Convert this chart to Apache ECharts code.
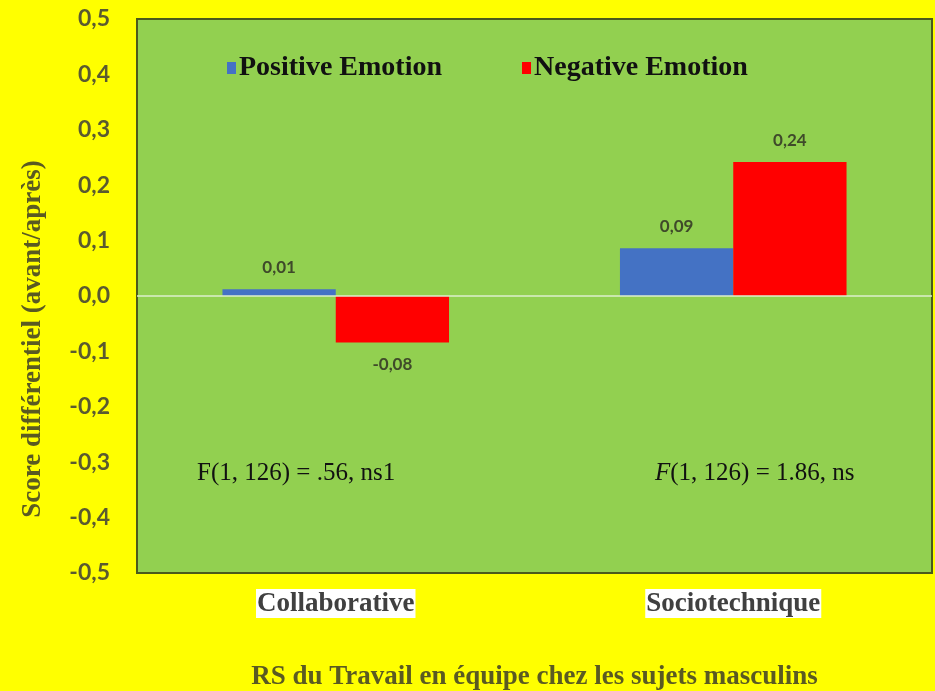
<!DOCTYPE html>
<html>
<head>
<meta charset="utf-8">
<script src="https://cdn.jsdelivr.net/npm/echarts@6/dist/echarts.min.js"></script>
<style>
  html, body { margin: 0; padding: 0; background: #ffff00; }
  #chart { width: 935px; height: 691px; }
</style>
</head>
<body>
<div id="chart"></div>
<script>
// donnees
var categories = ['Collaborative', 'Sociotechnique'];
var positiveEmotion = [0.012, 0.086];
var negativeEmotion = [-0.084, 0.242];
var yTicks = { min: -0.5, max: 0.5, step: 0.1 };
var fTests = ['F(1, 126) = .56, ns1', '{i|F}(1, 126) = 1.86, ns'];
var yTitle = 'Score différentiel (avant/après)';

function virgule(v, d) { // format francais
    return v.toFixed(d).replace('.', ',');
}

function barData(vals) {
    return vals.map(function (v) {
        return { value: v, label: { position: v < 0 ? 'bottom' : 'top' } };
    });
}

var chart = echarts.init(document.getElementById('chart'));

var labelStyle = {
    show: true,
    distance: 13,
    fontFamily: 'Lato',
    fontWeight: 'bold',
    fontSize: 17,
    color: '#3f4a2a',
    formatter: function (p) { return virgule(p.value, 2); }
};

var option = {
    backgroundColor: '#ffff00',
    animation: false,
    grid: {
        left: 137, right: 3, top: 19, bottom: 118,
        outerBoundsMode: 'none',
        show: true,
        backgroundColor: '#92d050',
        borderColor: '#4b5a1c',
        borderWidth: 2
    },
    legend: {
        top: 49,
        left: 222,
        itemGap: 80,
        itemWidth: 9,
        itemHeight: 12,
        icon: 'rect',
        textStyle: {
            fontFamily: 'Liberation Serif',
            fontWeight: 'bold',
            fontSize: 28,
            color: '#111',
            padding: [0, 0, 0, -2]
        },
        data: ['Positive Emotion', 'Negative Emotion']
    },
    xAxis: {
        type: 'category',
        data: categories,
        axisLine: { show: false, onZero: false },
        axisTick: { show: false },
        axisLabel: {
            margin: 16,
            fontFamily: 'Liberation Serif',
            fontWeight: 'bold',
            fontSize: 27,
            color: '#404040',
            backgroundColor: '#ffffff',
            padding: [2, 1, 0, 1]
        },
        name: 'RS du Travail en équipe chez les sujets masculins',
        nameLocation: 'middle',
        nameGap: 91,
        nameTextStyle: {
            fontFamily: 'Liberation Serif',
            fontWeight: 'bold',
            fontSize: 27,
            color: '#5a5a22'
        }
    },
    yAxis: {
        type: 'value',
        min: yTicks.min,
        max: yTicks.max,
        interval: yTicks.step,
        axisLine: { show: false },
        axisTick: { show: false },
        splitLine: { show: false },
        axisLabel: {
            margin: 27,
            fontFamily: 'Lato',
            fontWeight: 'bold',
            fontSize: 23,
            color: '#5a5a30',
            formatter: function (v) { return virgule(v, 1); }
        }
    },
    series: [
        {
            name: 'Positive Emotion',
            type: 'bar',
            data: barData(positiveEmotion),
            itemStyle: { color: '#4472c4' },
            barGap: '0%',
            barCategoryGap: '43%',
            label: labelStyle,
            markLine: {
                silent: true,
                symbol: 'none',
                label: { show: false },
                lineStyle: { color: '#dcefcc', type: 'solid', width: 1.5 },
                data: [{ yAxis: 0 }]
            },
            z: 3
        },
        {
            name: 'Negative Emotion',
            type: 'bar',
            data: barData(negativeEmotion),
            itemStyle: { color: '#ff0000' },
            label: labelStyle,
            z: 3
        }
    ],
    graphic: [
        {
            type: 'text', x: 33, y: 339, rotation: Math.PI / 2,
            style: {
                text: yTitle,
                font: 'bold 27px "Liberation Serif"',
                fill: '#5a5a22',
                align: 'center',
                verticalAlign: 'middle'
            }
        },
        {
            type: 'text', left: 197, top: 461,
            style: {
                text: fTests[0],
                font: '25px "Liberation Serif"',
                fill: '#111'
            }
        },
        {
            type: 'text', left: 655, top: 461,
            style: {
                text: fTests[1],
                font: '25px "Liberation Serif"',
                fill: '#111',
                rich: {
                    i: { fontStyle: 'italic', fontFamily: 'Liberation Serif', fontSize: 25, fill: '#111' }
                }
            }
        }
    ]
};

chart.setOption(option);
</script>
</body>
</html>
